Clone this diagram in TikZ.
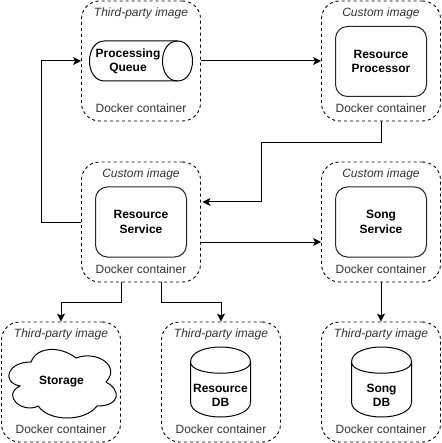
\documentclass[tikz,border=0pt]{standalone}
\usepackage{fontspec}
\setmainfont{Liberation Sans}
\usetikzlibrary{arrows.meta,calc}
\tikzset{
  container/.style={draw=black,line width=0.9pt,dash pattern=on 3pt off 3pt,rounded corners=18pt,minimum width=119pt,minimum height=120pt,inner sep=0pt,fill=none},
  service/.style={draw=black!85,line width=1pt,rounded corners=12pt,minimum width=91pt,minimum height=70pt,inner sep=0pt,align=center,font=\bfseries\fontsize{12}{14.6}\selectfont},
  caption/.style={inner sep=0pt,text=black!80,font=\fontsize{12}{14.6}\selectfont},
  imagecap/.style={caption,font=\itshape\fontsize{12}{14.6}\selectfont},
  shapetext/.style={inner sep=0pt,align=center,font=\bfseries\fontsize{12}{14.6}\selectfont},
  outline/.style={draw=black,line width=1pt},
  link/.style={draw=black,line width=1pt},
  flow/.style={link,-{Stealth[length=8pt,width=8pt,inset=2pt]}}
}
\newcommand{\dockerbox}[5]{% name, cx, cy, top caption
  \node[container] (#1) at (#2,#3) {};
  \node[imagecap] (#1cap) at (#4,#3-47.5-0.5) {#5};
  \node[caption] (#1dock) at (#4,#3+47) {Docker container};
}
\newcommand{\dbshape}[2]{% x, y of the top-left corner, 60 x 70
  \draw[outline] (#1,#2+15) .. controls (#1,#2-5) and (#1+60,#2-5) .. (#1+60,#2+15)
    -- (#1+60,#2+55) .. controls (#1+60,#2+75) and (#1,#2+75) .. (#1,#2+55) -- cycle;
  \draw[outline] (#1,#2+15) .. controls (#1,#2+30) and (#1+60,#2+30) .. (#1+60,#2+15);
}
\begin{document}
\begin{tikzpicture}[x=1pt,y=-1pt]
\useasboundingbox (0,0) rectangle (441,443);

% containers
\dockerbox{pq}{141}{61}{141}{Third-party image}
\dockerbox{rp}{381}{61}{381}{Custom image}
\dockerbox{rs}{141}{222}{141}{Custom image}
\dockerbox{ss}{381}{222}{381}{Custom image}
\dockerbox{st}{61}{382}{61}{Third-party image}
\dockerbox{rd}{221}{382}{221}{Third-party image}
\dockerbox{sd}{381}{382}{381}{Third-party image}

% inner services
\node[service] (rpbox) at (381,61.5) {Resource\\Processor};
\node[service] (rsbox) at (141,222) {Resource\\Service};
\node[service] (ssbox) at (381,222) {Song\\Service};

% queue
\draw[outline] (104.5,41) .. controls (84.5,41) and (84.5,81) .. (104.5,81)
  -- (177.5,81) .. controls (197.5,81) and (197.5,41) .. (177.5,41) -- cycle;
\draw[outline] (177.5,41) .. controls (157.5,41) and (157.5,81) .. (177.5,81);
\node[shapetext] (pqtext) at (128,61.5) {Processing\\Queue};

% cloud
\draw[outline] (31,362) .. controls (7,362) and (1,382) .. (20,386)
  .. controls (1,395.6) and (22.6,414) .. (38.2,406)
  .. controls (49,422) and (85,422) .. (97,406)
  .. controls (121,406) and (121,390) .. (106,382)
  .. controls (121,366) and (97,350) .. (76,358)
  .. controls (61,346) and (37,346) .. (31,362) -- cycle;
\node[shapetext] (sttext) at (61.5,381.5) {Storage};

% cylinders
\dbshape{190.5}{347}
\node[shapetext] (rdtext) at (220.5,395.5) {Resource\\DB};
\dbshape{351.5}{347}
\node[shapetext] (sdtext) at (381.5,395.5) {Song\\DB};

% free turning points of the connectors
\coordinate (rsleft) at ($(rs.west)+(-40,0)$);
\coordinate (pqleft) at ($(pq.west)+(-40,0)$);
\coordinate (rsin) at ($(rs.east)+(1.5,-20)$);
\coordinate (rsout) at ($(rs.east)+(0,20)$);
\coordinate (ssin) at ($(ss.west)+(0,20)$);
\coordinate (rsbl) at ($(rs.south)+(-20,0)$);
\coordinate (rsbr) at ($(rs.south)+(20,0)$);

% connectors
\draw[flow] (rs.west) -- (rsleft) -- (pqleft) -- (pq.west);
\draw[flow] (pq.east) -- (rp.west);
\draw[flow] (rp.south) -- ++(0,21) -| ($(rsin)+(59,0)$) -- (rsin);
\draw[flow] (rsout) -- (ssin);
\draw[flow] (rsbl) -- ++(0,20) -| (st.north);
\draw[flow] (rsbr) -- ++(0,20) -| (rd.north);
\draw[flow] (ss.south) -- (sd.north);
\end{tikzpicture}
\end{document}
